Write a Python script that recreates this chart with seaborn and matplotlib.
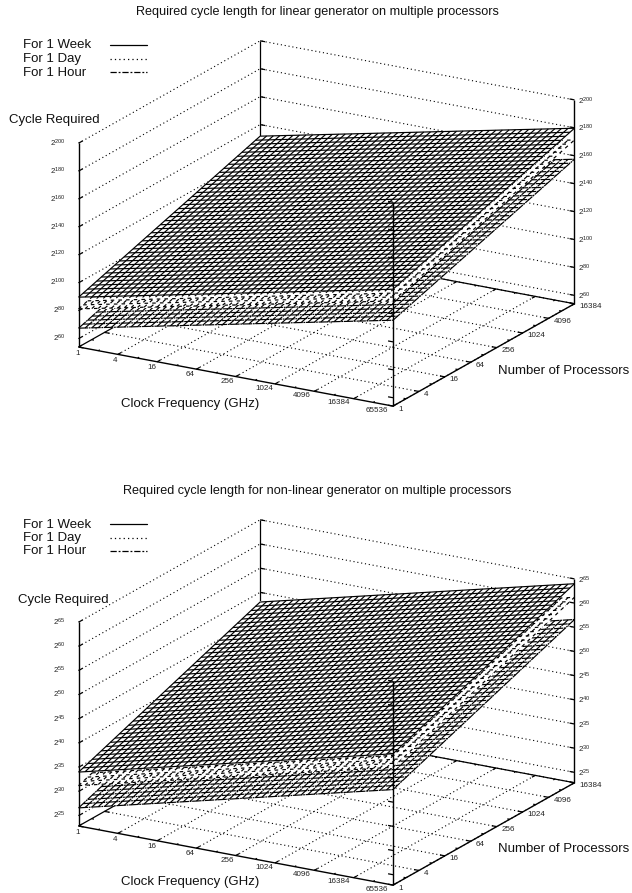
import matplotlib
matplotlib.use('Agg')
import matplotlib.pyplot as plt
from matplotlib.lines import Line2D
from mpl_toolkits.mplot3d import proj3d
import numpy as np
import seaborn as sns

W, H = 632, 893

# log2 of clock frequency / processors at each mesh line
freq_exp = [0.0, 0.33, 0.67, 1.0, 1.33, 1.67, 2.0, 2.33, 2.67, 3.0, 3.33, 3.67, 4.0, 4.33, 4.67, 5.0, 5.33,
            5.67, 6.0, 6.33, 6.67, 7.0, 7.33, 7.67, 8.0, 8.33, 8.67, 9.0, 9.33, 9.67, 10.0, 10.33, 10.67,
            11.0, 11.33, 11.67, 12.0, 12.33, 12.67, 13.0, 13.33, 13.67, 14.0, 14.33, 14.67, 15.0, 15.33,
            15.67, 16.0]
proc_exp = [0.0, 0.35, 0.7, 1.05, 1.4, 1.75, 2.1, 2.45, 2.8, 3.15, 3.5, 3.85, 4.2, 4.55, 4.9, 5.25, 5.6,
            5.95, 6.3, 6.65, 7.0, 7.35, 7.7, 8.05, 8.4, 8.75, 9.1, 9.45, 9.8, 10.15, 10.5, 10.85, 11.2,
            11.55, 11.9, 12.25, 12.6, 12.95, 13.3, 13.65, 14.0]

# how much log2(cycles) climbs along each axis
linear_freq_rise = [0, 1, 2, 3, 4, 5, 6, 7, 8, 9, 10, 11, 12, 13, 14, 15, 16, 17, 18, 19, 20, 21, 22, 23, 24,
                    25, 26, 27, 28, 29, 30, 31, 32, 33, 34, 35, 36, 37, 38, 39, 40, 41, 42, 43, 44, 45, 46,
                    47, 48]
linear_proc_rise = [0.0, 1.05, 2.1, 3.15, 4.2, 5.25, 6.3, 7.35, 8.4, 9.45, 10.5, 11.55, 12.6, 13.65, 14.7,
                    15.75, 16.8, 17.85, 18.9, 19.95, 21.0, 22.05, 23.1, 24.15, 25.2, 26.25, 27.3, 28.35,
                    29.4, 30.45, 31.5, 32.55, 33.6, 34.65, 35.7, 36.75, 37.8, 38.85, 39.9, 40.95, 42.0]
nonlinear_freq_rise = freq_exp
nonlinear_proc_rise = proc_exp

# log2(cycles) at 1 GHz on 1 processor
linear_start = {'week': 89.7, 'day': 81.3, 'hour': 67.5}
nonlinear_start = {'week': 34.0, 'day': 31.2, 'hour': 26.6}

freq_labels = ['1', '4', '16', '64', '256', '1024', '4096', '16384', '65536']
proc_labels = ['1', '4', '16', '64', '256', '1024', '4096', '16384']
freq_ticks = [0, 2, 4, 6, 8, 10, 12, 14, 16]
proc_ticks = [0, 2, 4, 6, 8, 10, 12, 14]
linear_zticks = [60, 80, 100, 120, 140, 160, 180, 200]
nonlinear_zticks = [25, 30, 35, 40, 45, 50, 55, 60, 65]
legend_labels = ['For 1 Week', 'For 1 Day', 'For 1 Hour']

sns.set_theme(style='white')
plt.rcParams['font.family'] = ['Liberation Sans', 'DejaVu Sans']
plt.rcParams['mathtext.fontset'] = 'custom'
plt.rcParams['mathtext.rm'] = 'Liberation Sans'
plt.rcParams['mathtext.default'] = 'regular'

DOT = (0, (1, 2.5))
DAY = (0, (3, 3.5))
HOUR = (0, (8, 0.6, 1.5, 0.6))
HOUR_KEY = (0, (5, 1.5, 1.5, 1.5))
MESH_LW = 0.85
AXIS_SIZE = 540.5  # side of the square 3d axes, px

fig = plt.figure(figsize=(W / 100, H / 100), dpi=100)


def px_text(x, y, s, size, ha='left'):
    fig.text(x / W, 1 - (y + 1.5) / H, s, fontsize=size, ha=ha, va='center', color='#111111')


def panel(bottom_px, title, title_y, zmin, zmax, zticks, start, frise, prise, cycle_x, cycle_y, clock_y, proc_y, leg_y):
    left_px = 49
    ax = fig.add_axes([left_px / W, 1 - bottom_px / H, AXIS_SIZE / W, AXIS_SIZE / H], projection='3d')
    ax.set_proj_type('ortho')
    ax.view_init(elev=19, azim=-60)
    ax.set_box_aspect((1, 1, 0.594))
    ax.computed_zorder = False
    ax.set_axis_off()
    ax.patch.set_visible(False)
    ax.set_xlim(0, 16)
    ax.set_ylim(0, 14)
    ax.set_zlim(zmin, zmax)

    def seg(xs, ys, zs, top=False, **kw):
        kw.setdefault('color', 'black')
        kw.setdefault('lw', 0.9)
        ax.plot(xs, ys, zs, zorder=20 if top else 1, solid_capstyle='butt', **kw)

    # back walls and floor grid
    for z in zticks:
        seg([0, 0, 16], [0, 14, 14], [z, z, z], ls=DOT, lw=0.8)
    for x in freq_ticks[1:]:
        seg([x, x], [0, 14], [zmin, zmin], ls=DOT, lw=0.8)
    for y in proc_ticks[1:]:
        seg([0, 16], [y, y], [zmin, zmin], ls=DOT, lw=0.8)
    seg([0, 0, 16], [0, 14, 14], [zmin, zmin, zmin])
    seg([0, 0], [14, 14], [zmin, zmax])

    # minor and major ticks on the floor edges and back corner
    for x in range(17):
        tl = 0.25 if x % 2 == 0 else 0.12
        seg([x, x], [14, 14 - tl], [zmin, zmin])
        seg([x, x], [0, tl], [zmin, zmin])
    for y in range(15):
        tl = 0.25 if y % 2 == 0 else 0.12
        seg([0, tl], [y, y], [zmin, zmin])
        seg([16, 16 - tl], [y, y], [zmin, zmin])
    for z in zticks:
        seg([0, 0.25], [14, 14], [z, z])

    # surfaces, lowest first so the upper ones hide what is behind them
    X, Y = np.meshgrid(freq_exp, proc_exp)
    rise = np.add.outer(prise, frise)
    for order, (key, ls) in enumerate([('hour', HOUR), ('day', DAY), ('week', '-')]):
        Z = start[key] + rise
        ax.plot_surface(X, Y, Z, color='white', shade=False, linewidth=0, antialiased=False,
                        rstride=1, cstride=1, zorder=3 + 2 * order)
        ax.plot_wireframe(X, Y, Z, rstride=1, cstride=1, colors='black', linewidth=MESH_LW,
                          linestyles=ls, zorder=4 + 2 * order)

    # front borders stay on top of the mesh
    seg([0, 16, 16], [0, 0, 14], [zmin, zmin, zmin], top=True, lw=1.0)
    seg([0, 0], [0, 0], [zmin, zmax], top=True, lw=1.0)
    seg([16, 16], [0, 0], [zmin, zmax], top=True, lw=1.0)
    seg([16, 16], [14, 14], [zmin, zmax], top=True, lw=1.0)
    for z in zticks:
        seg([0, 0], [0, 0.3], [z, z], top=True)
        seg([16, 15.75], [0, 0], [z, z], top=True)
        seg([16, 15.75], [14, 14], [z, z], top=True)

    M = ax.get_proj()

    def tick_label(x, y, z, s, dx, dy, ha):
        px, py, _ = proj3d.proj_transform(x, y, z, M)
        ax.annotate(s, xy=(px, py), xytext=(dx * 0.72, -dy * 0.72), textcoords='offset points',
                    fontsize=5.8, ha=ha, va='center', color='#222222', annotation_clip=False, zorder=30)

    for x, s in zip(freq_ticks, freq_labels):
        tick_label(x, 0, zmin, s, -(1 + 0.97 * x), 6 - x / 8, 'center')
    for y, s in zip(proc_ticks, proc_labels):
        tick_label(16, y, zmin, s, 5, 3, 'left')
    for z in zticks:
        lab = '$2^{%d}$' % z
        tick_label(0, 0, z, lab, -13, 0, 'right')
        tick_label(16, 14, z, lab, 4, 1, 'left')

    px_text(317, title_y, title, 9.05, ha='center')
    px_text(cycle_x, cycle_y, 'Cycle Required', 9.55)
    px_text(190, clock_y, 'Clock Frequency (GHz)', 9.55, ha='center')
    px_text(498, proc_y, 'Number of Processors', 9.55)
    for i, (lab, ls) in enumerate(zip(legend_labels, ['-', (0, (1, 2.5)), HOUR_KEY])):
        y = leg_y + 13.5 * i
        px_text(23, y, lab, 9.55)
        fig.add_artist(Line2D([110 / W, 147 / W], [1 - (y + 1) / H, 1 - (y + 1) / H], color='black',
                              lw=0.9, ls=ls, transform=fig.transFigure))


panel(501, 'Required cycle length for linear generator on multiple processors', 10,
      54, 200, linear_zticks, linear_start, linear_freq_rise, linear_proc_rise, 9, 119, 402, 369, 44)
panel(980, 'Required cycle length for non-linear generator on multiple processors', 490,
      22.85, 65, nonlinear_zticks, nonlinear_start, nonlinear_freq_rise, nonlinear_proc_rise, 18, 598, 881, 848, 523)

fig.savefig('out.png', dpi=100)
